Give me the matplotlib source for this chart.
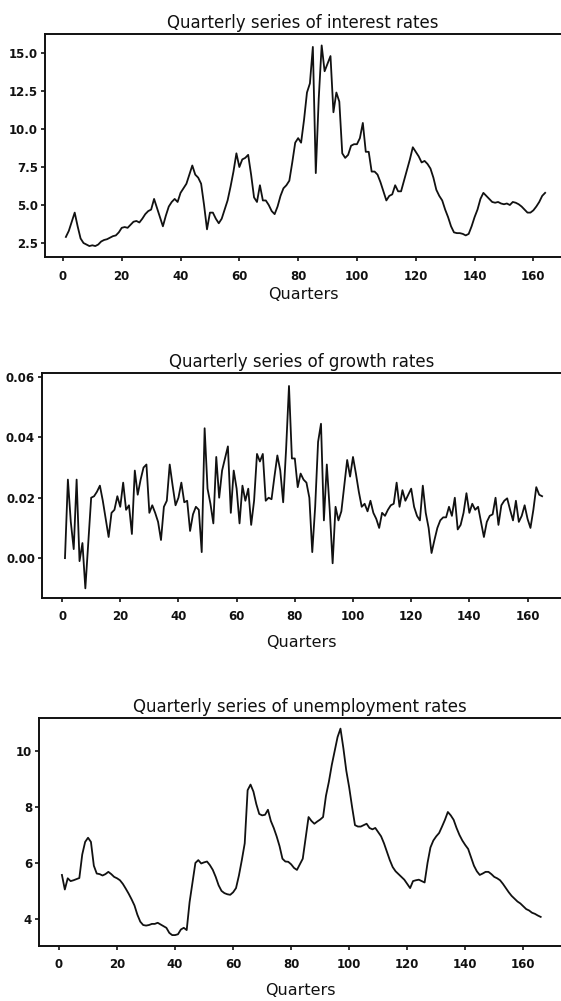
import matplotlib
matplotlib.use("Agg")
import matplotlib.pyplot as plt
from matplotlib.ticker import FormatStrFormatter

# ---------------- data ----------------
interest_rates = [
    2.9, 3.3, 3.9, 4.5, 3.6, 2.8, 2.5, 2.4, 2.3, 2.35,
    2.3, 2.4, 2.6, 2.7, 2.75, 2.85, 2.95, 3.0, 3.2, 3.5,
    3.55, 3.5, 3.7, 3.9, 3.95, 3.85, 4.1, 4.4, 4.6, 4.7,
    5.4, 4.8, 4.2, 3.6, 4.3, 4.9, 5.2, 5.4, 5.2, 5.8,
    6.1, 6.4, 7.0, 7.6, 7.0, 6.8, 6.4, 5.0, 3.4, 4.5,
    4.5, 4.1, 3.8, 4.1, 4.7, 5.3, 6.2, 7.2, 8.4, 7.5,
    8.0, 8.1, 8.3, 7.0, 5.5, 5.2, 6.3, 5.3, 5.3, 5.0,
    4.6, 4.4, 4.9, 5.6, 6.1, 6.3, 6.6, 7.8, 9.1, 9.4,
    9.1, 10.6, 12.4, 13.0, 15.4, 7.1, 12.0, 15.5, 13.8, 14.3,
    14.8, 11.1, 12.4, 11.8, 8.4, 8.1, 8.3, 8.9, 9.0, 9.0,
    9.4, 10.4, 8.5, 8.5, 7.2, 7.2, 7.0, 6.5, 5.9, 5.3,
    5.6, 5.7, 6.3, 5.9, 5.9, 6.6, 7.3, 8.0, 8.8, 8.5,
    8.2, 7.8, 7.9, 7.7, 7.4, 6.8, 6.0, 5.6, 5.3, 4.7,
    4.2, 3.6, 3.2, 3.15, 3.15, 3.1, 3.0, 3.1, 3.6, 4.2,
    4.7, 5.4, 5.8, 5.6, 5.4, 5.2, 5.15, 5.2, 5.1, 5.05,
    5.1, 5.0, 5.2, 5.15, 5.05, 4.9, 4.7, 4.5, 4.5, 4.65,
    4.9, 5.2, 5.6, 5.8,
]

growth_rates = [
    0.000, 0.026, 0.012, 0.003, 0.026, -0.001, 0.005, -0.010, 0.005, 0.020,
    0.0205, 0.022, 0.024, 0.019, 0.013, 0.007, 0.015, 0.016, 0.0205, 0.017,
    0.025, 0.016, 0.0175, 0.008, 0.029, 0.021, 0.026, 0.030, 0.031, 0.015,
    0.0175, 0.015, 0.012, 0.006, 0.017, 0.019, 0.031, 0.024, 0.0175, 0.020,
    0.025, 0.0185, 0.019, 0.009, 0.0145, 0.017, 0.016, 0.002, 0.043, 0.023,
    0.018, 0.0115, 0.0335, 0.020, 0.029, 0.033, 0.037, 0.015, 0.029, 0.023,
    0.0115, 0.024, 0.019, 0.023, 0.011, 0.019, 0.0345, 0.032, 0.0345, 0.019,
    0.020, 0.0195, 0.027, 0.034, 0.029, 0.0185, 0.036, 0.057, 0.033, 0.033,
    0.0235, 0.028, 0.026, 0.025, 0.020, 0.002, 0.017, 0.0385, 0.0445, 0.0125,
    0.031, 0.016, -0.0017, 0.017, 0.0125, 0.0155, 0.024, 0.0325, 0.027, 0.0335,
    0.028, 0.022, 0.017, 0.018, 0.0155, 0.019, 0.015, 0.013, 0.010, 0.015,
    0.014, 0.016, 0.0175, 0.018, 0.025, 0.017, 0.0225, 0.019, 0.021, 0.023,
    0.017, 0.014, 0.0125, 0.024, 0.015, 0.010, 0.0017, 0.006, 0.010, 0.0125,
    0.0135, 0.0135, 0.017, 0.014, 0.020, 0.0095, 0.011, 0.015, 0.0215, 0.015,
    0.018, 0.016, 0.017, 0.012, 0.007, 0.012, 0.014, 0.0145, 0.020, 0.011,
    0.0175, 0.019, 0.0198, 0.016, 0.0125, 0.019, 0.012, 0.014, 0.0175, 0.013,
    0.010, 0.016, 0.0235, 0.021, 0.0205,
]

unemployment_rates = [
    5.57, 5.05, 5.45, 5.35, 5.38, 5.42, 5.46, 6.3, 6.75, 6.9,
    6.75, 5.9, 5.62, 5.6, 5.55, 5.6, 5.68, 5.6, 5.5, 5.45,
    5.38, 5.25, 5.08, 4.9, 4.7, 4.48, 4.15, 3.9, 3.78, 3.76,
    3.78, 3.82, 3.82, 3.86, 3.8, 3.74, 3.68, 3.5, 3.42, 3.42,
    3.45, 3.62, 3.68, 3.6, 4.6, 5.3, 6.0, 6.1, 5.98, 6.02,
    6.05, 5.92, 5.75, 5.5, 5.2, 5.0, 4.92, 4.88, 4.86, 4.95,
    5.1, 5.55, 6.1, 6.7, 8.6, 8.8, 8.55, 8.1, 7.75, 7.7,
    7.72, 7.9, 7.5, 7.25, 6.95, 6.6, 6.15, 6.05, 6.04, 5.95,
    5.82, 5.75, 5.95, 6.15, 6.9, 7.64, 7.5, 7.4, 7.48, 7.55,
    7.64, 8.4, 8.9, 9.5, 10.0, 10.5, 10.8, 10.1, 9.3, 8.7,
    8.0, 7.35, 7.3, 7.3, 7.35, 7.4, 7.25, 7.2, 7.25, 7.1,
    6.95, 6.7, 6.4, 6.1, 5.85, 5.7, 5.6, 5.5, 5.4, 5.25,
    5.1, 5.35, 5.38, 5.4, 5.35, 5.3, 6.0, 6.55, 6.8, 6.95,
    7.07, 7.3, 7.54, 7.82, 7.7, 7.54, 7.25, 7.0, 6.8, 6.64,
    6.5, 6.2, 5.9, 5.7, 5.57, 5.62, 5.68, 5.68, 5.6, 5.5,
    5.45, 5.38, 5.25, 5.1, 4.95, 4.82, 4.72, 4.62, 4.55, 4.45,
    4.35, 4.3, 4.22, 4.18, 4.12, 4.07,
]

titles = [
    "Quarterly series of interest rates",
    "Quarterly series of growth rates",
    "Quarterly series of unemployment rates",
]
x_ticks = [0, 20, 40, 60, 80, 100, 120, 140, 160]
interest_yticks = [2.5, 5.0, 7.5, 10.0, 12.5, 15.0]
growth_yticks = [0.00, 0.02, 0.04, 0.06]
unemp_yticks = [4, 6, 8, 10]
xlabel = "Quarters"

# ---------------- figure ----------------
plt.rcParams['font.family'] = ['Liberation Sans Narrow', 'DejaVu Sans']

W, H = 561, 1001
fig = plt.figure(figsize=(W / 100, H / 100), dpi=100)
fig.patch.set_facecolor("white")

def px_axes(left, top, bottom, right=561):
    return fig.add_axes([left / W, 1 - bottom / H, (right - left) / W, (bottom - top) / H])

panels = [
    dict(rect=(45, 34, 257), data=interest_rates, ylim=(1.58, 16.25), xlim=(-6.1, 169.4),
         yticks=interest_yticks, fmt="%.1f", xlabel_pad=3),
    dict(rect=(42, 373, 598), data=growth_rates, ylim=(-0.0132, 0.0613), xlim=(-6.9, 171.5),
         yticks=growth_yticks, fmt="%.2f", xlabel_pad=8),
    dict(rect=(39, 718, 946), data=unemployment_rates, ylim=(3.03, 11.18), xlim=(-6.9, 173.0),
         yticks=unemp_yticks, fmt="%d", xlabel_pad=8),
]

for p, title in zip(panels, titles):
    ax = px_axes(*p["rect"])
    q = list(range(1, len(p["data"]) + 1))
    ax.plot(q, p["data"], color="#111111", linewidth=1.3)
    ax.set_xlim(*p["xlim"])
    ax.set_ylim(*p["ylim"])
    ax.set_xticks(x_ticks)
    ax.set_yticks(p["yticks"])
    ax.yaxis.set_major_formatter(FormatStrFormatter(p["fmt"]))
    for s in ["left", "bottom", "top"]:
        ax.spines[s].set_linewidth(1.4)
        ax.spines[s].set_color("#111111")
    ax.spines["right"].set_visible(False)
    ax.tick_params(axis="both", direction="out", length=3, width=1.2, colors="#111111",
                   labelsize=8.5, pad=2)
    for lab in ax.get_xticklabels() + ax.get_yticklabels():
        lab.set_fontweight("bold")
    ax.tick_params(axis="x", pad=6)
    ax.set_title(title, fontsize=12, pad=4, color="#111111")
    ax.set_xlabel(xlabel, fontsize=11.5, labelpad=p["xlabel_pad"], color="#111111")

fig.savefig("out.png", dpi=100, facecolor="white")
